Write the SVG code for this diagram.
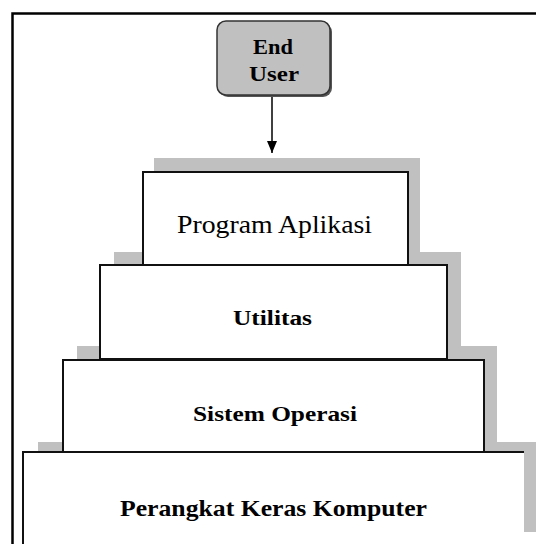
<svg xmlns="http://www.w3.org/2000/svg" width="536" height="544" viewBox="0 0 536 544">
<defs>
<style>
.shadow{fill:#c0c0c0}
.box{fill:#ffffff;stroke:#111;stroke-width:2}
.lbl{font-family:"Liberation Serif","Times New Roman",serif;fill:#000;text-anchor:start}
.b{font-weight:bold}
</style>
<marker id="arr" markerWidth="12" markerHeight="10" refX="12" refY="5" orient="auto" markerUnits="userSpaceOnUse" viewBox="0 0 12 10">
<path d="M0,0 L12,5 L0,10 Z" fill="#000"/>
</marker>
</defs>
<rect width="536" height="544" fill="#ffffff"/>
<path d="M12.5 544 V13.5 H536" fill="none" stroke="#000" stroke-width="2.5"/>
<g id="shadows">
<rect class="shadow" x="154" y="158" width="266" height="107"/>
<rect class="shadow" x="114" y="252" width="347" height="107"/>
<rect class="shadow" x="77" y="346" width="420" height="106"/>
<rect class="shadow" x="38" y="442" width="498" height="90"/>
</g>
<g id="connectors">
<line x1="272" y1="97" x2="272" y2="153" stroke="#000" stroke-width="1.5" marker-end="url(#arr)"/>
</g>
<g id="end-user">
<rect x="219" y="23" width="113" height="74" rx="9" fill="#555"/>
<rect x="217" y="21" width="113" height="74" rx="9" fill="#c0c0c0" stroke="#333" stroke-width="1.5"/>
<text class="lbl b" x="253" y="54" font-size="22" textLength="40" lengthAdjust="spacingAndGlyphs">End</text>
<text class="lbl b" x="249" y="81" font-size="22" textLength="50" lengthAdjust="spacingAndGlyphs">User</text>
</g>
<g id="program-aplikasi">
<rect class="box" x="143" y="172" width="265" height="93"/>
<text class="lbl" x="177" y="233" font-size="25" textLength="195" lengthAdjust="spacingAndGlyphs">Program Aplikasi</text>
</g>
<g id="utilitas">
<rect class="box" x="100" y="265" width="347" height="94"/>
<text class="lbl b" x="233" y="325" font-size="20" textLength="79" lengthAdjust="spacingAndGlyphs">Utilitas</text>
</g>
<g id="sistem-operasi">
<rect class="box" x="63" y="360" width="421" height="92"/>
<text class="lbl b" x="193" y="421" font-size="21" textLength="164" lengthAdjust="spacingAndGlyphs">Sistem Operasi</text>
</g>
<g id="perangkat-keras">
<rect x="23" y="452" width="501" height="100" fill="#ffffff"/>
<path d="M23 544 V452 H524" fill="none" stroke="#111" stroke-width="2"/>
<text class="lbl b" x="120" y="516" font-size="24" textLength="307" lengthAdjust="spacingAndGlyphs">Perangkat Keras Komputer</text>
</g>
</svg>
